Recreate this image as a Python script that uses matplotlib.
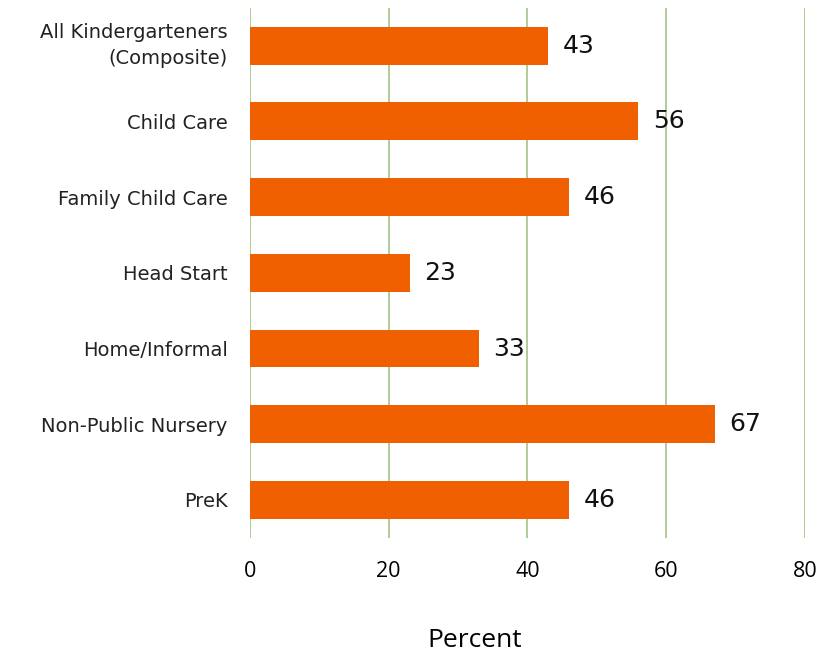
import matplotlib
matplotlib.use('Agg')
from matplotlib import pyplot as plt

# データ
categories = ['All Kindergarteners\n(Composite)', 'Child Care', 'Family Child Care',
              'Head Start', 'Home/Informal', 'Non-Public Nursery', 'PreK']
values = [43, 56, 46, 23, 33, 67, 46]
xticks = [0, 20, 40, 60, 80]

bar_color = '#F06000'
grid_color = '#A8C890'

fig = plt.figure(figsize=(8.4, 6.55), dpi=100)
ax = fig.add_axes([0.2976, 0.179, 0.6607, 0.809])

y = list(range(len(categories)))
bars = ax.barh(y, values, height=0.5, color=bar_color, zorder=3)

ax.set_ylim(len(categories) - 0.5, -0.5)
ax.set_xlim(0, 80)
ax.set_xticks(xticks)
ax.set_xticklabels([str(t) for t in xticks], fontsize=15.5, family='Open Sans')
ax.set_yticks(y)
ax.set_yticklabels(categories, fontsize=14, family='DejaVu Sans', color='#222222',
                   linespacing=1.45)
ax.get_yticklabels()[0].set_va('center')
ax.tick_params(axis='both', length=0)
ax.tick_params(axis='x', pad=17)
ax.tick_params(axis='y', pad=16)

ax.xaxis.grid(True, color=grid_color, linewidth=1.3, zorder=0)
for s in ax.spines.values():
    s.set_visible(False)

# 値ラベル
for b, v in zip(bars, values):
    ax.text(b.get_width() + 2.1, b.get_y() + b.get_height() / 2, str(v),
            va='center', ha='left', fontsize=18, family='DejaVu Sans', color='#111111')

fig.text(0.565, 0.003, 'Percent', ha='center', va='bottom', fontsize=19, family='Open Sans')

fig.savefig('out.png', dpi=100)
